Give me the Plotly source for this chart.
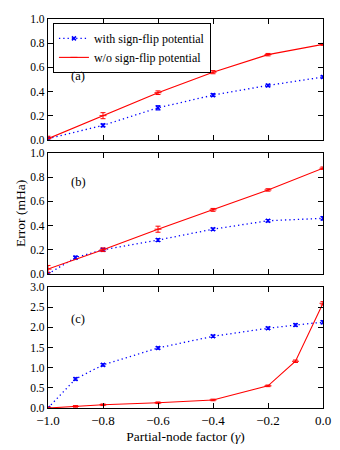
import plotly.graph_objects as go
from plotly.subplots import make_subplots

# panel (a)
a_x_blue = [-1.0, -0.8, -0.6, -0.4, -0.2, 0.0]
a_y_blue = [0.01, 0.12, 0.265, 0.37, 0.45, 0.52]
a_e_blue = [0.01, 0.012, 0.018, 0.012, 0.01, 0.01]
a_x_red = [-1.0, -0.8, -0.6, -0.4, -0.2, 0.0]
a_y_red = [0.01, 0.20, 0.39, 0.56, 0.705, 0.79]
a_e_red = [0.02, 0.025, 0.015, 0.013, 0.01, 0.008]

# panel (b)
b_x_blue = [-1.0, -0.9, -0.8, -0.6, -0.4, -0.2, 0.0]
b_y_blue = [0.0, 0.135, 0.20, 0.28, 0.37, 0.44, 0.46]
b_e_blue = [0.01, 0.012, 0.012, 0.012, 0.01, 0.01, 0.015]
b_x_red = [-1.0, -0.8, -0.6, -0.4, -0.2, 0.0]
b_y_red = [0.04, 0.20, 0.37, 0.53, 0.695, 0.875]
b_e_red = [0.03, 0.015, 0.025, 0.012, 0.01, 0.01]

# panel (c)
c_x = [-1.0, -0.9, -0.8, -0.6, -0.4, -0.2, -0.1, 0.0]
c_y_blue = [0.0, 0.72, 1.07, 1.49, 1.78, 1.98, 2.06, 2.13]
c_e_blue = [0.02, 0.03, 0.03, 0.03, 0.03, 0.03, 0.03, 0.04]
c_y_red = [0.0, 0.04, 0.08, 0.13, 0.20, 0.55, 1.16, 2.60]
c_e_red = [0.02, 0.02, 0.02, 0.02, 0.02, 0.02, 0.03, 0.04]

panels = [
    (a_x_blue, a_y_blue, a_e_blue, a_x_red, a_y_red, a_e_red),
    (b_x_blue, b_y_blue, b_e_blue, b_x_red, b_y_red, b_e_red),
    (c_x, c_y_blue, c_e_blue, c_x, c_y_red, c_e_red),
]
labels = ['(a)', '(b)', '(c)']
label_y = [0.53, 0.76, 2.2]
y_ranges = [[0, 1.0], [0, 1.0], [0, 3.0]]
y_dtick = [0.2, 0.2, 0.5]

BLUE = '#0000ff'
RED = '#ff0000'
FONT = 'Liberation Serif, Times New Roman, DejaVu Serif, serif'

fig = make_subplots(rows=3, cols=1, shared_xaxes=False, vertical_spacing=0.034)

for i, (xb, yb, eb, xr, yr, er) in enumerate(panels):
    row = i + 1
    fig.add_trace(go.Scatter(
        x=xb, y=yb, mode='lines+markers',
        name='with sign-flip potential', showlegend=(i == 0),
        line=dict(color=BLUE, width=1.3, dash='1.3px,3px'),
        marker=dict(symbol='x-thin', size=4, color=BLUE, line=dict(color=BLUE, width=1.5)),
        error_y=dict(type='data', array=eb, color=BLUE, thickness=1, width=2.5),
    ), row=row, col=1)
    fig.add_trace(go.Scatter(
        x=xr, y=yr, mode='lines+markers',
        name='w/o sign-flip potential', showlegend=(i == 0),
        line=dict(color=RED, width=1.1),
        marker=dict(symbol='line-ew', size=5, color=RED, line=dict(color=RED, width=1)),
        error_y=dict(type='data', array=er, color=RED, thickness=1, width=2.5),
    ), row=row, col=1)
    fig.add_annotation(x=-0.89, y=label_y[i], text=labels[i], showarrow=False,
                       xref=f'x{row if row > 1 else ""}', yref=f'y{row if row > 1 else ""}',
                       font=dict(family=FONT, size=12.5, color='black'))
    fig.update_yaxes(range=y_ranges[i], dtick=y_dtick[i], tickformat='.1f', row=row, col=1)
    fig.update_xaxes(range=[-1.0, 0.0], dtick=0.2, tickformat='.1f',
                     showticklabels=(row == 3), row=row, col=1)

axis_style = dict(showline=True, linecolor='black', linewidth=1.2, mirror='ticks',
                  ticks='inside', ticklen=5, tickcolor='black', showgrid=False,
                  zeroline=False, tickfont=dict(family=FONT, size=13, color='black'))
fig.update_xaxes(**axis_style)
fig.update_yaxes(**axis_style)
# smaller y labels so that 0.0 and 1.0 of neighbouring panels do not collide
fig.update_yaxes(tickfont=dict(family=FONT, size=11.5, color='black'))
fig.update_xaxes(title=dict(text='Partial-node factor (<i>γ</i>)',
                            font=dict(family=FONT, size=13.5, color='black'),
                            standoff=4), row=3, col=1)

fig.add_annotation(x=-0.135, y=0.5, xref='paper', yref='paper', text='Error (mHa)',
                   textangle=-90, showarrow=False,
                   font=dict(family=FONT, size=13.5, color='black'))

# the page body adds an 8px offset, so the figure is shrunk to keep the axes in place
fig.update_layout(
    width=332, height=442,
    margin=dict(l=40, r=17, t=5, b=42),
    plot_bgcolor='white', paper_bgcolor='white',
    legend=dict(x=0.018, y=0.99, xanchor='left', yanchor='top',
                bordercolor='black', borderwidth=1, bgcolor='white',
                font=dict(family=FONT, size=12, color='black'),
                tracegroupgap=0, itemwidth=30),
)

fig.write_html("out.html")
